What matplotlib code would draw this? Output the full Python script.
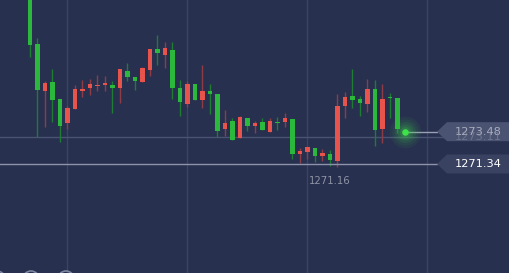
import matplotlib
matplotlib.use("Agg")
import matplotlib.pyplot as plt
import matplotlib.patches as mpatches
import matplotlib.transforms as mtrans
import numpy as np

# ---- data ----
opens = [1283.2, 1279.28, 1276.18, 1276.76, 1275.63, 1274.04, 1275.01, 1276.18, 1276.36, 1276.49,
         1276.56, 1276.58, 1276.36, 1277.53, 1277.13, 1276.76, 1277.57, 1278.94, 1278.57, 1278.90,
         1276.40, 1275.32, 1276.62, 1275.58, 1276.16, 1275.96, 1273.64, 1274.19, 1273.04, 1274.41,
         1273.86, 1274.12, 1273.44, 1274.14, 1274.10, 1274.30, 1271.98, 1272.14, 1272.38, 1271.87,
         1272.00, 1271.54, 1275.19, 1275.87, 1275.63, 1275.32, 1276.29, 1273.66, 1275.80, 1275.74]
highs = [1283.5, 1279.69, 1276.84, 1277.64, 1275.63, 1275.19, 1276.58, 1276.91, 1276.98, 1277.24,
         1277.17, 1276.84, 1277.62, 1278.06, 1277.13, 1277.75, 1278.94, 1279.89, 1279.43, 1279.43,
         1276.91, 1276.84, 1276.62, 1277.90, 1276.64, 1275.96, 1274.92, 1274.37, 1274.52, 1274.41,
         1274.19, 1274.37, 1274.37, 1274.46, 1274.74, 1274.30, 1272.38, 1272.45, 1272.38, 1272.31,
         1272.27, 1275.98, 1276.09, 1277.64, 1275.85, 1276.98, 1276.91, 1276.64, 1276.03, 1275.74]
lows = [1278.41, 1273.15, 1273.81, 1274.14, 1272.82, 1273.68, 1274.98, 1275.80, 1275.91, 1276.20,
        1276.20, 1274.74, 1275.40, 1276.86, 1276.25, 1276.76, 1277.19, 1277.90, 1277.72, 1275.65,
        1274.54, 1275.14, 1275.58, 1275.07, 1274.64, 1273.11, 1273.22, 1272.93, 1273.04, 1273.55,
        1273.42, 1273.59, 1273.44, 1273.59, 1273.81, 1271.67, 1271.43, 1271.67, 1271.45, 1271.56,
        1271.18, 1271.16, 1274.41, 1275.07, 1274.54, 1274.81, 1272.55, 1272.75, 1274.37, 1273.38]
closes = [1279.23, 1276.25, 1276.69, 1275.58, 1273.86, 1275.03, 1276.29, 1276.29, 1276.66, 1276.60,
          1276.69, 1276.36, 1277.62, 1277.09, 1276.84, 1277.68, 1278.94, 1278.68, 1279.01, 1276.36,
          1275.43, 1276.62, 1275.58, 1276.15, 1275.96, 1273.53, 1274.04, 1272.93, 1274.44, 1273.86,
          1274.04, 1273.59, 1274.17, 1274.04, 1274.37, 1271.98, 1272.20, 1272.45, 1271.87, 1272.09,
          1271.61, 1275.21, 1275.80, 1275.58, 1275.36, 1276.33, 1273.59, 1275.63, 1275.70, 1273.64]
current_price = 1273.48
level_price = 1271.34
grid_price = 1273.11
low_label = "1271.16"
low_label_index = 40
grid_x = [5, 21, 37, 53]

# ---- style ----
BG = "#28304f"
UP = "#e8534b"      # red = rising
DOWN = "#2cb83c"    # green = falling
UP_W = "#8e3c46"
DOWN_W = "#1f7c33"

W, H = 509, 273
fig = plt.figure(figsize=(W / 100, H / 100), dpi=100)
fig.patch.set_facecolor(BG)
ax = fig.add_axes([0, 0, 1, 1])
ax.set_facecolor(BG)
ax.axis("off")
ax.set_xlim(-4, 63.87)
ax.set_ylim(1264.11, 1282.21)

for gx in grid_x:
    ax.axvline(gx, color="#3b4465", lw=1, zorder=0)
ax.axhline(grid_price, color="#4a5373", lw=1, zorder=0)

n = len(opens)
idx = np.arange(n)
bw = 0.6
for i in idx:
    o, h, l, c = opens[i], highs[i], lows[i], closes[i]
    up = c >= o
    ax.vlines(i, l, h, color=UP_W if up else DOWN_W, lw=1, zorder=2)
    bot = min(o, c)
    ht = max(abs(c - o), 0.06)
    ax.add_patch(mpatches.Rectangle((i - bw / 2, bot), bw, ht,
                                    facecolor=UP if up else DOWN, edgecolor="none", zorder=3))

# current price dot with glow
ci = n
for r, a in [(520, 0.06), (360, 0.08), (230, 0.10), (130, 0.14), (60, 0.2)]:
    ax.scatter([ci], [current_price], s=r, color="#3bd14a", alpha=a, linewidths=0, zorder=4)
ax.scatter([ci], [current_price], s=22, color="#3ee34b", linewidths=0, zorder=5)

# price lines
x0, x1 = ax.get_xlim()
tag_x = 437 / W
ax.axhline(current_price, xmin=(ci - x0) / (x1 - x0), xmax=tag_x, color="#9aa0b3", lw=1, zorder=3)
ax.axhline(level_price, xmin=0, xmax=tag_x, color="#8d93aa", lw=1, zorder=3)

fig.canvas.draw()
ident = mtrans.IdentityTransform()
blend = mtrans.blended_transform_factory(ax.transAxes, ax.transData)


def tag(price, fill, tcolor, z):
    y = ax.transData.transform((0, price))[1]
    hh = 9.5
    pts = [(437, y), (447, y + hh), (W, y + hh), (W, y - hh), (447, y - hh)]
    ax.add_patch(mpatches.Polygon(pts, closed=True, transform=ident, facecolor=fill,
                                  edgecolor="none", zorder=z))
    ax.text(502 / W, price, f"{price:.2f}", transform=blend, ha="right", va="center",
            color=tcolor, fontsize=8.2, zorder=z + 1)


tag(current_price, "#4a5371", "#a9aebd", 6)
ax.text(502 / W, grid_price, f"{grid_price:.2f}", transform=blend, ha="right", va="center",
        color="#8a90a3", alpha=0.55, fontsize=8.2, zorder=8)
tag(level_price, "#3a4262", "#ffffff", 6)

# low label
ax.annotate(low_label, (low_label_index, lows[low_label_index + 1]), xytext=(0, -10),
            textcoords="offset points", ha="center", va="center", color="#8e93a5", fontsize=7.3)

# bottom partial circle buttons
for cx in [-3, 31, 66]:
    ax.add_patch(mpatches.Circle((cx, -6), 8, transform=ident, facecolor="none",
                                 edgecolor="#7f86a0", lw=1.2, zorder=5))

fig.savefig("out.png", dpi=100, facecolor=BG)
